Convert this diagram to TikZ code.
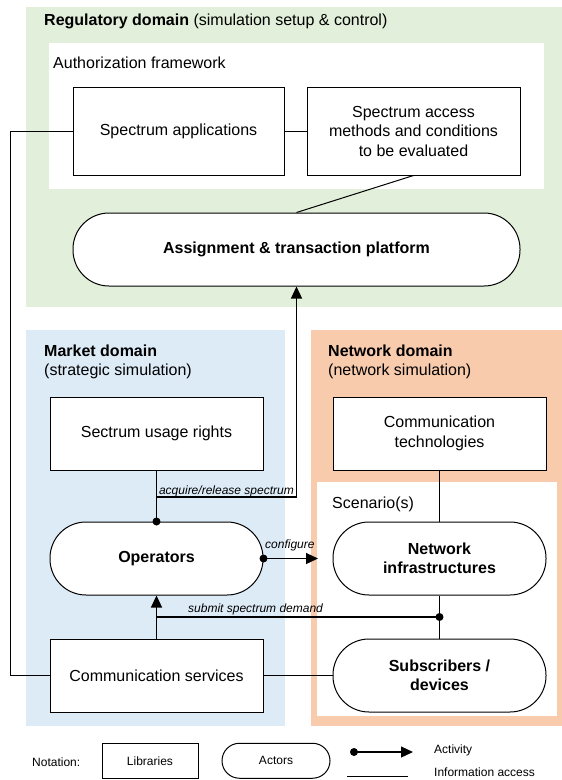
\documentclass[tikz,border=0pt]{standalone}
\usepackage{fontspec}
\setmainfont{Liberation Sans}
\usetikzlibrary{arrows.meta}
\definecolor{regGreen}{HTML}{E2EFDA}
\definecolor{mktBlue}{HTML}{DDEBF7}
\definecolor{netOrange}{HTML}{F8CBAD}
\begin{document}
\begin{tikzpicture}[x=1pt,y=-1pt,
  lib/.style={draw=black, line width=1pt, fill=white, inner sep=0pt, align=center,
    font=\fontsize{16pt}{19.5pt}\selectfont},
  actor/.style={lib, rounded corners=36pt, font=\bfseries\fontsize{16pt}{19.5pt}\selectfont},
  conn/.style={line width=1pt},
  act/.style={line width=1.2pt, -{Triangle[length=12pt,width=11pt]}},
  lbl/.style={font=\itshape\fontsize{12pt}{14pt}\selectfont, inner sep=0pt},
  ttl/.style={font=\fontsize{16pt}{19pt}\selectfont, inner sep=0pt, anchor=base west},
  note/.style={font=\fontsize{12pt}{14pt}\selectfont, inner sep=0pt},
  dot/.style={fill=black}
]
\fill[white] (0,0) rectangle (562,780);
\path[use as bounding box] (0,0) rectangle (562,780);

% domains
\fill[regGreen] (26,7) rectangle (562,307);
\fill[white] (49,43) rectangle (544,189);
\fill[mktBlue] (26,330) rectangle (285,726);
\fill[netOrange] (311,330) rectangle (562,726);
\fill[white] (317,482) rectangle (557,716);

% titles
\node[ttl] (regtitle) at (44,25.5) {\textbf{Regulatory domain} (simulation setup \& control)};
\node[ttl] (authtitle) at (53,68.5) {Authorization framework};
\node[ttl] (mkttitle) at (44,356) {\textbf{Market domain}};
\node[ttl] (mktsub) at (44,375.5) {(strategic simulation)};
\node[ttl] (nettitle) at (328,356) {\textbf{Network domain}};
\node[ttl] (netsub) at (328,375.5) {(network simulation)};
\node[ttl] (scentitle) at (332,508.5) {Scenario(s)};

% nodes
\node[lib, minimum width=211pt, minimum height=88pt] (app) at (178.5,131) {Spectrum applications};
\node[lib, minimum width=213pt, minimum height=88pt] (access) at (413.5,131) {Spectrum access\\methods and conditions\\to be evaluated};
\node[actor, minimum width=447pt, minimum height=73pt] (plat) at (296.5,249.5) {Assignment \& transaction platform};
\node[lib, minimum width=213pt, minimum height=73pt] (rights) at (156.5,433.5) {Sectrum usage rights};
\node[lib, minimum width=213pt, minimum height=73pt] (tech) at (439.5,433.5) {Communication\\technologies};
\node[actor, minimum width=213pt, minimum height=73pt] (ops) at (156.5,558.5) {Operators};
\node[actor, minimum width=213pt, minimum height=73pt] (infra) at (439.5,558.5) {Network\\infrastructures};
\node[lib, minimum width=213pt, minimum height=73pt] (comm) at (156.5,675.5) {Communication services};
\node[actor, minimum width=213pt, minimum height=73pt] (subs) at (439.5,675.5) {Subscribers /\\devices};

% helper coordinates
\coordinate (acqcorner) at (296.5,497);
\coordinate (cfgend) at (318,558.5);
\coordinate (demdot) at (439.5,617);
\coordinate (demjoin) at (156.5,617);

% information access lines
\draw[conn] (app) -- (access);
\draw[conn] (access.south) -- (plat.north);
\draw[conn] (app.west) -- ++(-62,0) |- (comm.west);
\draw[conn] (rights.south) -- (ops.north);
\draw[conn] (tech.south) -- (infra.north);
\draw[conn] (infra.south) -- (subs.north);
\draw[conn] (comm.east) -- (subs.west);

% activities
\draw[act] (ops.north) |- (acqcorner) -- (plat.south);
\fill[dot] (ops.north) circle[radius=4pt];
\node[lbl, anchor=base east] (acqlbl) at (294,494) {acquire/release spectrum};

\draw[act] (ops.east) -- (cfgend);
\fill[dot] (ops.east) circle[radius=4pt];
\node[lbl, anchor=base west] (cfglbl) at (265,548) {configure};

\draw[act] (comm.north) -- (ops.south);
\draw[line width=1.2pt] (demdot) -- (demjoin);
\fill[dot] (demdot) circle[radius=4pt];
\node[lbl, anchor=base west] (demlbl) at (188,612) {submit spectrum demand};

% notation
\node[note, anchor=base west] (notlbl) at (32,766) {Notation:};
\node[lib, font=\fontsize{12pt}{14pt}\selectfont, minimum width=96pt, minimum height=35pt] (nlib) at (150,760.75) {Libraries};
\node[lib, rounded corners=17.5pt, font=\fontsize{12pt}{14pt}\selectfont, minimum width=108pt, minimum height=35pt] (nact) at (276,760.75) {Actors};
\coordinate (nactA) at (354,752);
\coordinate (nactB) at (413,752);
\coordinate (ninfA) at (347,776);
\coordinate (ninfB) at (408,776);
\draw[act] (nactA) -- (nactB);
\fill[dot] (nactA) circle[radius=4pt];
\draw[conn] (ninfA) -- (ninfB);
\node[note, anchor=base west] (nactlbl) at (434,753) {Activity};
\node[note, anchor=base west] (ninflbl) at (434,776) {Information access};
\end{tikzpicture}
\end{document}
